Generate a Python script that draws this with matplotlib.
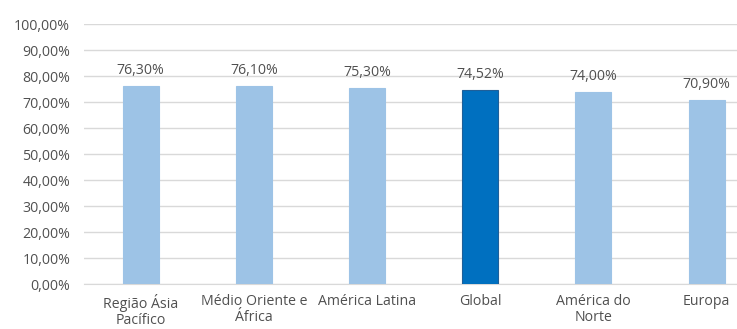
import matplotlib
matplotlib.use("Agg")
import matplotlib.pyplot as plt
from matplotlib.ticker import FuncFormatter

categories = ["Região Ásia\nPacífico", "Médio Oriente e\nÁfrica", "América Latina", "Global", "América do\nNorte", "Europa"]
values = [76.30, 76.10, 75.30, 74.52, 74.00, 70.90]
highlight = "Global"

plt.rcParams['font.family'] = ['Open Sans', 'DejaVu Sans']

W, H = 737, 329
fig = plt.figure(figsize=(W/100, H/100), dpi=100)
left, right = 84, 737
top, bottom = 24, 284
ax = fig.add_axes([left/W, 1 - bottom/H, (right-left)/W, (bottom-top)/H])

slot = 113.2
x = list(range(len(categories)))
colors = ["#0070C0" if c.startswith(highlight) else "#9DC3E6" for c in categories]
edges = ["#1F5F99" if c.startswith(highlight) else "#9DC3E6" for c in categories]
bw = 36/slot
bars = ax.bar(x, values, width=bw, color=colors, edgecolor=edges, linewidth=0.8, zorder=3)

txt = "#505050"
for xi, v in zip(x, values):
    ax.text(xi, v + 3.0, f"{v:.2f}%".replace(".", ","), ha="center", va="bottom",
            fontsize=10.2, color=txt)

ax.set_ylim(0, 100)
ax.set_xlim(-0.5, -0.5 + (right-left)/slot)
ax.set_yticks(range(0, 101, 10))
ax.yaxis.set_major_formatter(FuncFormatter(lambda v, p: f"{v:.2f}%".replace(".", ",")))
ax.set_xticks(x)
ax.set_xticklabels(categories, fontsize=10.2, color=txt, linespacing=1.15)
ax.tick_params(axis="y", labelsize=10.2, labelcolor=txt, length=0, pad=10)
ax.tick_params(axis="x", length=0, pad=7)
ax.grid(axis="y", color="#D9D9D9", linewidth=1, zorder=0)
for s in ["top", "right", "left"]:
    ax.spines[s].set_visible(False)
ax.spines["bottom"].set_color("#D9D9D9")
ax.set_axisbelow(True)

fig.savefig("out.png", dpi=100, facecolor="white")
